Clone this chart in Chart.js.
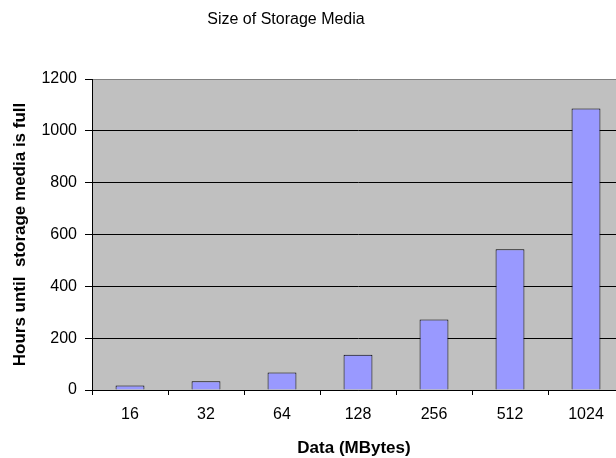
<!DOCTYPE html>
<html>
<head>
<meta charset="utf-8">
<script src="https://cdn.jsdelivr.net/npm/chart.js@4"></script>
<style>
  html, body { margin: 0; padding: 0; background: #fff; overflow: hidden; }
  #wrap { width: 640px; height: 458px; }
</style>
</head>
<body>
<div id="wrap"><canvas id="c" width="640" height="458"></canvas></div>
<script>
  // Size of Storage Media: hours until the card fills, per card size.
  var categories = ["16", "32", "64", "128", "256", "512", "1024"];
  var hours = [17, 34, 68, 136, 272, 543, 1086];
  var yTicks = [0, 200, 400, 600, 800, 1000, 1200];

  var TITLE = "Size of Storage Media";
  var X_TITLE = "Data (MBytes)";
  var Y_TITLE = "Hours until  storage media is full";
  var FONT = "Liberation Sans, Arial, sans-serif";

  // Excel-style grey plot area.
  var plotBg = {
    id: "plotBg",
    beforeDraw: function (chart) {
      var a = chart.chartArea, ctx = chart.ctx;
      ctx.save();
      ctx.fillStyle = "#C0C0C0";
      ctx.fillRect(a.left, a.top, a.right - a.left, a.bottom - a.top);
      ctx.restore();
    }
  };

  // Chart title and axis titles, placed like the original.
  var titles = {
    id: "titles",
    afterDraw: function (chart) {
      var a = chart.chartArea, ctx = chart.ctx;
      ctx.save();
      ctx.fillStyle = "#000";
      ctx.textAlign = "center";
      ctx.textBaseline = "middle";
      ctx.font = "16px " + FONT;
      ctx.fillText(TITLE, 286, 20);
      ctx.font = "bold 17px " + FONT;
      ctx.fillText(X_TITLE, 354, 448);
      ctx.translate(20, (a.top + a.bottom) / 2);
      ctx.rotate(-Math.PI / 2);
      ctx.fillText(Y_TITLE, 0, 0);
      ctx.restore();
    }
  };

  new Chart(document.getElementById("c").getContext("2d"), {
    type: "bar",
    data: {
      labels: categories,
      datasets: [{
        data: hours,
        backgroundColor: "#9999FF",
        borderColor: "#000",
        borderWidth: 1,
        borderSkipped: "bottom",
        categoryPercentage: 1,
        barPercentage: 0.38
      }]
    },
    options: {
      responsive: false,
      animation: false,
      layout: { padding: { top: 79, right: 16, left: 0, bottom: 0 } },
      plugins: { legend: { display: false }, tooltip: { enabled: false }, title: { display: false } },
      scales: {
        x: {
          afterFit: function (s) { s.height = 68; },
          border: { color: "#000", width: 1 },
          grid: { offset: true, drawOnChartArea: false, tickLength: 5, color: "#000" },
          ticks: { color: "#000", padding: 10, font: { family: FONT, size: 16 }, maxRotation: 0 }
        },
        y: {
          min: 0,
          max: 1200,
          afterFit: function (s) { s.width = 92; },
          afterBuildTicks: function (s) { s.ticks = yTicks.map(function (v) { return { value: v }; }); },
          border: { color: "#000", width: 1 },
          grid: {
            tickLength: 7,
            color: function (ctx) { return ctx.tick && ctx.tick.value === 1200 ? "#808080" : "#000"; },
            tickColor: "#000"
          },
          ticks: {
            color: "#000", padding: 8, font: { family: FONT, size: 16 },
            callback: function (v) { return String(v); }
          }
        }
      }
    },
    plugins: [plotBg, titles]
  });
</script>
</body>
</html>
